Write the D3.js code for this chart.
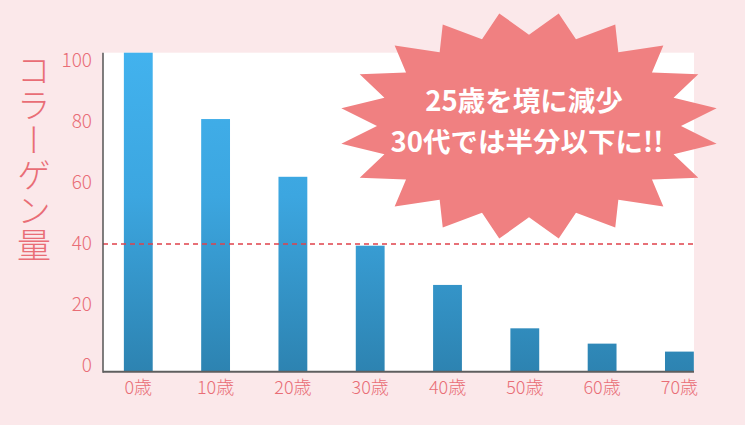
<!DOCTYPE html>
<html><head><meta charset="utf-8">
<script src="https://cdn.jsdelivr.net/npm/d3@7/dist/d3.min.js"></script>
<style>
html,body{margin:0;padding:0;background:#fbe8ea;}
svg{display:block;}
</style></head>
<body>
<svg id="chart" width="745" height="425"></svg>
<script>
const categories = ["0歳","10歳","20歳","30歳","40歳","50歳","60歳","70歳"];
const values = [100, 79.2, 61.1, 39.5, 27.2, 13.6, 8.8, 6.3];
const yTicks = [0, 20, 40, 60, 80, 100];
const refValue = 40;
const yTitle = "コラーゲン量";
const calloutLines = ["25歳を境に減少", "30代では半分以下に!!"];

const svg = d3.select("#chart");
const W = 745, H = 425;
const plot = {left: 103, right: 694, top: 52.7, bottom: 371.7};

svg.append("rect").attr("width", W).attr("height", H).attr("fill", "#fbe8ea");
svg.append("rect").attr("x", plot.left).attr("y", plot.top)
  .attr("width", plot.right - plot.left).attr("height", plot.bottom - plot.top)
  .attr("fill", "#ffffff");

const x = d3.scaleBand().domain(categories).range([plot.left, 714.7])
  .paddingInner(0.627).paddingOuter(0.27);
const y = d3.scaleLinear().domain([0, 100]).range([plot.bottom, plot.top]);
const yLabel = d3.scaleLinear().domain([0, 100]).range([365, 60]);

const defs = svg.append("defs");
const grad = defs.append("linearGradient").attr("id", "barGrad")
  .attr("gradientUnits", "userSpaceOnUse")
  .attr("x1", 0).attr("x2", 0).attr("y1", plot.top).attr("y2", plot.bottom);
grad.append("stop").attr("offset", "0%").attr("stop-color", "#42b2ee");
grad.append("stop").attr("offset", "45%").attr("stop-color", "#3ca6e0");
grad.append("stop").attr("offset", "100%").attr("stop-color", "#2d83b1");

svg.append("g").selectAll("rect").data(values).join("rect")
  .attr("x", (d, i) => x(categories[i]))
  .attr("y", d => y(d))
  .attr("width", x.bandwidth())
  .attr("height", d => y(0) - y(d))
  .attr("fill", "url(#barGrad)");

// reference dashed line
svg.append("line")
  .attr("x1", plot.left).attr("x2", plot.right)
  .attr("y1", y(refValue)).attr("y2", y(refValue))
  .attr("stroke", "#e0414b").attr("stroke-width", 1.5)
  .attr("stroke-dasharray", "5,4");

// axes lines
svg.append("line").attr("x1", plot.left).attr("x2", plot.left)
  .attr("y1", plot.top).attr("y2", plot.bottom + 1)
  .attr("stroke", "#555").attr("stroke-width", 1.5);
svg.append("line").attr("x1", plot.left).attr("x2", plot.right)
  .attr("y1", plot.bottom).attr("y2", plot.bottom)
  .attr("stroke", "#5f5f5f").attr("stroke-width", 2);

const labelColor = "#e96d76";
const yAxis = svg.append("g").attr("transform", "translate(92,0)")
  .call(d3.axisLeft(yLabel).tickValues(yTicks).tickSize(0).tickPadding(0));
yAxis.select(".domain").remove();
yAxis.selectAll("text").attr("fill", labelColor)
  .style("font-family", "'Noto Sans CJK JP','Noto Sans',sans-serif")
  .style("font-weight", 300).style("font-size", "19px");

const xAxis = svg.append("g").attr("transform", `translate(0,${plot.bottom})`)
  .call(d3.axisBottom(x).tickSize(0).tickPadding(10));
xAxis.select(".domain").remove();
xAxis.selectAll("text").attr("fill", labelColor)
  .style("font-family", "'Noto Sans CJK JP','Noto Sans',sans-serif")
  .style("font-weight", 300).style("font-size", "18px");

// y title (vertical)
svg.append("text")
  .attr("x", 34).attr("y", 53)
  .attr("writing-mode", "vertical-rl")
  .attr("fill", labelColor)
  .style("font-family", "'Noto Sans CJK JP',sans-serif")
  .style("font-weight", 300).style("font-size", "34px")
  .style("letter-spacing", "1px")
  .text(yTitle);

// starburst callout
const cx = 529, cy = 126, rx = 190, ry = 114, n = 20, inner = 0.8;
const pts = [];
for (let i = 0; i < n * 2; i++) {
  const th = i * Math.PI / n + (9 * Math.PI / 180);
  const r = (i % 2 === 0) ? 1 : inner;
  pts.push([cx + rx * r * Math.sin(th), cy - ry * r * Math.cos(th)]);
}
svg.append("path").attr("d", d3.line()(pts) + "Z").attr("fill", "#f08081");

const callout = svg.append("g")
  .style("font-family", "'Noto Sans CJK JP',sans-serif")
  .style("font-weight", 700).style("font-size", "27.5px")
  .attr("fill", "#ffffff").attr("text-anchor", "middle");
callout.selectAll("text").data(calloutLines).join("text")
  .attr("x", (d, i) => i === 0 ? 524 : 527)
  .attr("y", (d, i) => 111 + i * 41)
  .text(d => d);
</script>
</body></html>
